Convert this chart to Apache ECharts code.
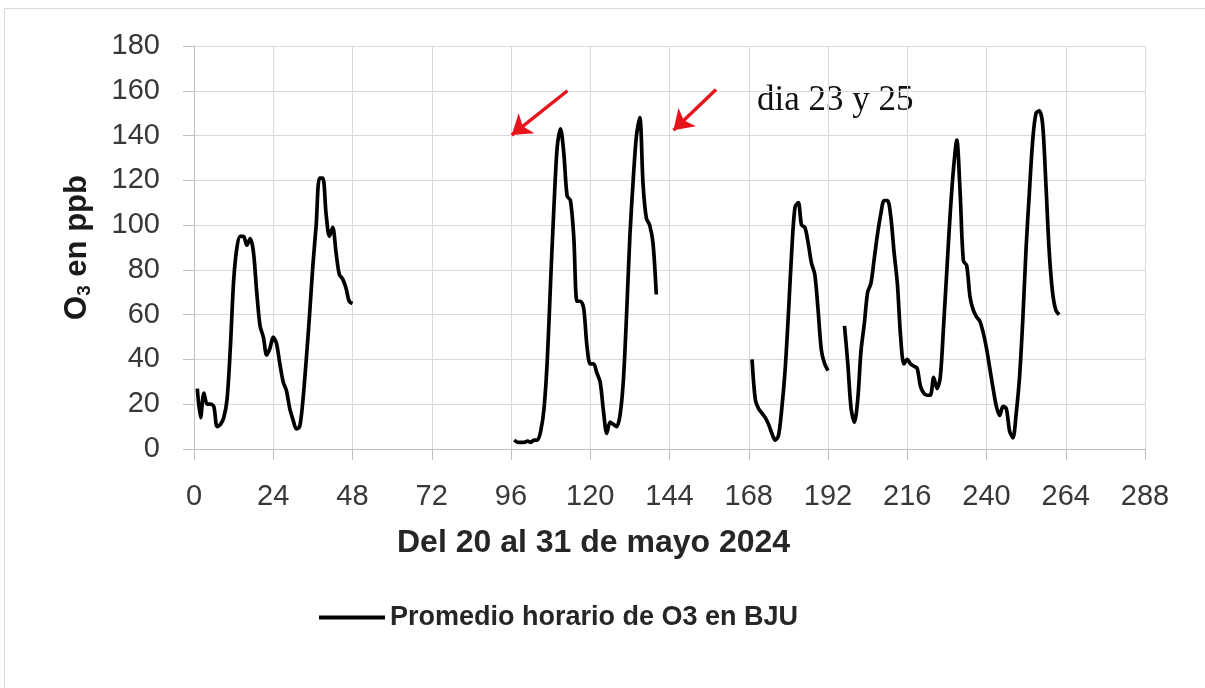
<!DOCTYPE html>
<html>
<head>
<meta charset="utf-8">
<script src="https://cdn.jsdelivr.net/npm/echarts@6/dist/echarts.min.js"></script>
<style>
html,body{margin:0;padding:0;background:#fff;}
#frame{position:absolute;left:4px;top:8px;width:1210px;height:690px;border:1px solid #d9d9d9;box-sizing:border-box;}
#chart{position:absolute;left:0;top:0;width:1205px;height:688px;}
</style>
</head>
<body>
<div id="frame"></div>
<div id="chart"></div>
<script>
// Hourly O3 (ppb), station BJU, 20-31 May 2024. Each segment: first hour + values.
const seg1Start = 1;
const seg1 = [27,14,25,20,20,19,10,11,14,22,45,75,90,95,95,91,94,88,70,55,50,42,45,50,47,38,30,26,18,13,9,10,22,40,60,82,100,121,121,105,95,99,88,78,76,72,66,65];
const seg2Start = 97;
const seg2 = [4,3,3,3,3.5,3,4,4,8,18,40,75,108,135,143,132,113,111,95,66,66,63,46,38,38,34,30,17,7,12,11,10,15,30,60,95,120,140,148,118,103,100,92,69];
const seg3Start = 169;
const seg3 = [40,22,18,16,14,11,7,4,6,18,35,60,88,108,110,100,99,92,83,78,62,44,38,35];
const seg4Start = 197;
const seg4 = [55,38,18,12,22,44,56,70,74,85,96,105,111,111,104,88,74,50,38,40,38,37,36,28,25,24,24,32,27,32,55,80,105,125,138,115,84,82,68,62,59,57,52,45,36,27,19,15,19,18,8,5,16,32,58,90,115,138,150,151,145,118,88,70,62,60];
const xTicks = [0,24,48,72,96,120,144,168,192,216,240,264,288];
const yTicks = [0,20,40,60,80,100,120,140,160,180];
const seriesName = 'Promedio horario de O3 en BJU';
const xTitle = 'Del 20 al 31 de mayo 2024';
const note = 'dia 23 y 25';
// arrows: [tail hour, tail ppb] -> [head hour, head ppb]
const arrows = [[[113.1,160],[96.2,140.2]],[[158.1,160.6],[145.2,142.4]]];

function build(){
  const data = [];
  [[seg1Start,seg1],[seg2Start,seg2],[seg3Start,seg3],[seg4Start,seg4]].forEach(([s,arr],i)=>{
    if(i>0) data.push([s-1, null]);
    arr.forEach((v,k)=>data.push([s+k, v]));
  });
  return data;
}

const chart = echarts.init(document.getElementById('chart'));
chart.setOption({
  animation:false,
  textStyle:{fontFamily:'Liberation Sans, Arial, sans-serif'},
  grid:{left:194,right:60,top:46,bottom:239},
  xAxis:{type:'value',min:xTicks[0],max:xTicks[xTicks.length-1],interval:24,
    axisLine:{show:true,lineStyle:{color:'#bfbfbf',width:1}},
    axisTick:{show:true,length:11,lineStyle:{color:'#bfbfbf'}},
    splitLine:{show:true,lineStyle:{color:'#d9d9d9',width:1}},
    axisLabel:{fontSize:29,color:'#383838',margin:33}},
  yAxis:{type:'value',min:yTicks[0],max:yTicks[yTicks.length-1],interval:20,
    name:'O{s|3} en ppb',nameLocation:'middle',nameGap:100,
    nameTextStyle:{fontSize:31,fontWeight:'bold',color:'#1a1a1a',
      rich:{s:{fontSize:19,fontWeight:'bold',color:'#1a1a1a',verticalAlign:'bottom',padding:[14,0,0,0]}}},
    axisLine:{show:true,lineStyle:{color:'#bfbfbf',width:1}},
    axisTick:{show:true,length:11,lineStyle:{color:'#bfbfbf'}},
    splitLine:{show:true,lineStyle:{color:'#d9d9d9',width:1}},
    axisLabel:{fontSize:29,color:'#383838',margin:34}},
  legend:{left:314,top:599,icon:'rect',itemWidth:66,itemHeight:4,itemGap:8,
    textStyle:{fontSize:27,fontWeight:'bold',color:'#262626'},data:[seriesName]},
  graphic:[
    {type:'text',left:397,top:527,style:{text:xTitle,fontSize:32,fontWeight:'bold',fill:'#262626',fontFamily:'Liberation Sans, Arial'}},
    {type:'text',left:757,top:83,style:{text:note,fontSize:35,fill:'#111',fontFamily:'Liberation Serif, Times New Roman, serif'}}
  ],
  series:[{
    name:seriesName,type:'line',data:build(),showSymbol:false,connectNulls:false,smooth:0.3,
    lineStyle:{color:'#000',width:3.7},itemStyle:{color:'#000'},
    markLine:{silent:true,symbol:['none','arrow'],symbolSize:19,label:{show:false},
      lineStyle:{color:'#e8141c',width:3.4,type:'solid'},
      data:arrows.map(a=>[{coord:a[0]},{coord:a[1]}])}
  }]
});
</script>
</body>
</html>
